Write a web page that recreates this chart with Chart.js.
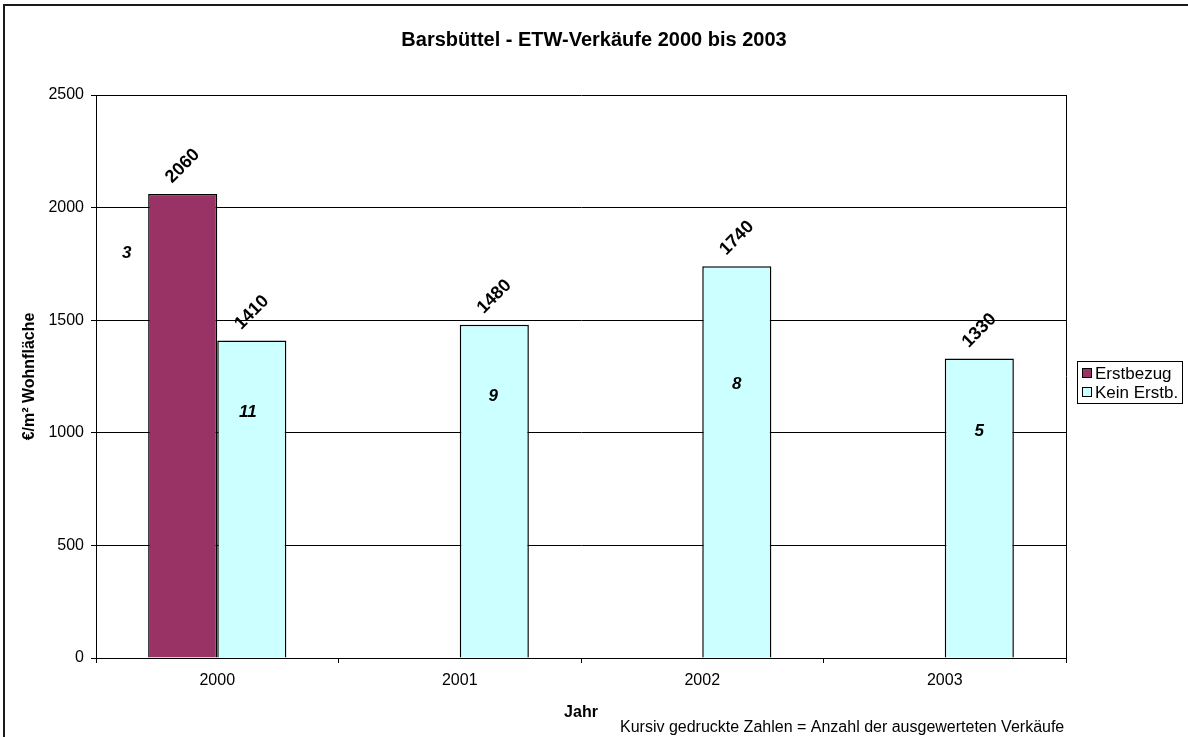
<!DOCTYPE html>
<html>
<head>
<meta charset="utf-8">
<title>Barsbüttel - ETW-Verkäufe 2000 bis 2003</title>
<script src="https://cdn.jsdelivr.net/npm/chart.js@4.4.1/dist/chart.umd.min.js"></script>
<style>
  html, body { margin: 0; padding: 0; background: #fff; }
  canvas { display: block; }
</style>
</head>
<body>
<canvas id="chart" width="1188" height="737"></canvas>
<script>
// Kaufjahre und durchschnittliche Preise in €/m² Wohnfläche
const years = ['2000', '2001', '2002', '2003'];
const erstbezug = [2060, null, null, null];
const keinErstb = [1410, 1480, 1740, 1330];
// Anzahl der ausgewerteten Verkäufe je Balken (kursiv)
const salesErstbezug = [3, null, null, null];
const salesKeinErstb = [11, 9, 8, 5];
// Beschriftungen der Werteachse
const yTicks = [0, 500, 1000, 1500, 2000, 2500];

const FONT = '"Liberation Sans", Arial, Helvetica, sans-serif';
Chart.defaults.font.family = FONT;
Chart.defaults.color = '#000';

// Outer frame and right edge of the plot area
const framePlugin = {
  id: 'frame',
  afterDraw(chart) {
    const ctx = chart.ctx, a = chart.chartArea;
    ctx.save();
    ctx.strokeStyle = '#000';
    ctx.lineWidth = 1;
    ctx.beginPath();
    const rx = Math.round(a.right) + 0.5;
    ctx.moveTo(rx, a.top);
    ctx.lineTo(rx, a.bottom);
    ctx.stroke();
    ctx.fillStyle = '#1a1a1a';
    ctx.fillRect(3, 4, chart.width, 2);
    ctx.fillRect(3, 4, 2, chart.height);
    ctx.restore();
  }
};

// Rotated value above each bar, italic sales count inside/next to it
const barLabelPlugin = {
  id: 'barLabels',
  afterDatasetsDraw(chart, args, opts) {
    const ctx = chart.ctx;
    chart.data.datasets.forEach((ds, di) => {
      const meta = chart.getDatasetMeta(di);
      meta.data.forEach((bar, i) => {
        const v = ds.data[i];
        if (v == null) return;
        ctx.save();
        ctx.fillStyle = '#000';
        ctx.textAlign = 'center';
        ctx.textBaseline = 'middle';
        ctx.translate(bar.x, bar.y - opts.valueGap);
        ctx.rotate(-Math.PI / 4);
        ctx.font = 'bold 18px ' + FONT;
        ctx.fillText(String(v), 0, 0);
        ctx.restore();

        const n = ds.counts[i];
        if (n == null) return;
        const off = opts.countOffsets[di][i];
        ctx.save();
        ctx.fillStyle = '#000';
        ctx.textAlign = 'center';
        ctx.textBaseline = 'middle';
        ctx.font = 'italic bold 17px ' + FONT;
        ctx.fillText(String(n), bar.x + off[0], bar.y + off[1]);
        ctx.restore();
      });
    });
  }
};

// Framed legend on the right side
const boxLegendPlugin = {
  id: 'boxLegend',
  afterDraw(chart, args, o) {
    const ctx = chart.ctx;
    const sets = chart.data.datasets;
    const h = o.rowH * sets.length + o.pad * 2;
    ctx.save();
    ctx.fillStyle = '#fff';
    ctx.fillRect(o.x, o.y, o.w, h);
    ctx.strokeStyle = '#000';
    ctx.lineWidth = 1;
    ctx.strokeRect(o.x + 0.5, o.y + 0.5, o.w, h);
    ctx.font = '17px ' + FONT;
    ctx.textBaseline = 'middle';
    ctx.textAlign = 'left';
    sets.forEach((ds, i) => {
      const cy = Math.round(o.y + o.pad + o.rowH * i + o.rowH / 2);
      ctx.fillStyle = ds.backgroundColor;
      ctx.fillRect(o.x + 5, cy - 5, 10, 10);
      ctx.strokeRect(o.x + 5.5, cy - 4.5, 9, 9);
      ctx.fillStyle = '#000';
      ctx.fillText(ds.label, o.x + 18, cy + 1);
    });
    ctx.restore();
  }
};

// Footnote under the x axis
const footnotePlugin = {
  id: 'footnote',
  afterDraw(chart, args, o) {
    const ctx = chart.ctx;
    ctx.save();
    ctx.font = '16px ' + FONT;
    ctx.fillStyle = '#000';
    ctx.textAlign = 'left';
    ctx.textBaseline = 'middle';
    ctx.fillText(o.text, o.x, o.y);
    ctx.restore();
  }
};

new Chart(document.getElementById('chart'), {
  type: 'bar',
  data: {
    labels: years,
    datasets: [
      {
        label: 'Erstbezug',
        data: erstbezug,
        counts: salesErstbezug,
        backgroundColor: '#993366',
        borderColor: '#000',
        borderWidth: 1.5
      },
      {
        label: 'Kein Erstb.',
        data: keinErstb,
        counts: salesKeinErstb,
        backgroundColor: '#CCFFFF',
        borderColor: '#000',
        borderWidth: 1.5
      }
    ]
  },
  options: {
    responsive: false,
    animation: false,
    events: [],
    categoryPercentage: 0.57,
    barPercentage: 1,
    layout: { padding: 0 },
    scales: {
      x: {
        ticks: { color: '#000', font: { size: 16 }, padding: 8, maxRotation: 0 },
        grid: { offset: true, drawOnChartArea: false, tickLength: 5, color: '#000' },
        border: { color: '#000' },
        title: {
          display: true, text: 'Jahr', color: '#000',
          font: { size: 16, weight: 'bold' },
          padding: { top: 0, bottom: 14.4 }
        },
        afterFit(s) { s.height = 79; }
      },
      y: {
        min: yTicks[0],
        max: yTicks[yTicks.length - 1],
        afterBuildTicks(s) { s.ticks = yTicks.map(v => ({ value: v })); },
        ticks: { color: '#000', font: { size: 16 }, padding: 7, callback: v => String(v) },
        grid: { color: '#000', tickLength: 5, lineWidth: 1 },
        border: { color: '#000' },
        title: {
          display: true, text: '€/m² Wohnfläche', color: '#000',
          font: { size: 16, weight: 'bold' },
          padding: { top: 20.4, bottom: 0 }
        },
        afterFit(s) { s.width = 96; }
      },
      // empty right-hand axis that reserves the room for the legend box
      legendSpace: {
        type: 'linear',
        position: 'right',
        display: true,
        grid: { display: false, drawTicks: false },
        border: { display: false },
        ticks: { display: false },
        afterFit(s) { s.width = 122; }
      }
    },
    plugins: {
      legend: { display: false },
      tooltip: { enabled: false },
      title: {
        display: true,
        text: 'Barsbüttel - ETW-Verkäufe 2000 bis 2003',
        color: '#000',
        font: { size: 20, weight: 'bold' },
        padding: { top: 28, bottom: 43 }
      },
      barLabels: {
        valueGap: 28,
        countOffsets: [
          [[-56, 59], null, null, null],
          [[-4, 72], [-1, 72], [0, 118], [0, 73]]
        ]
      },
      boxLegend: { x: 1077, y: 361, w: 105, rowH: 19, pad: 2 },
      footnote: { text: 'Kursiv gedruckte Zahlen = Anzahl der ausgewerteten Verkäufe', x: 620, y: 728 }
    }
  },
  plugins: [framePlugin, barLabelPlugin, boxLegendPlugin, footnotePlugin]
});
</script>
</body>
</html>
